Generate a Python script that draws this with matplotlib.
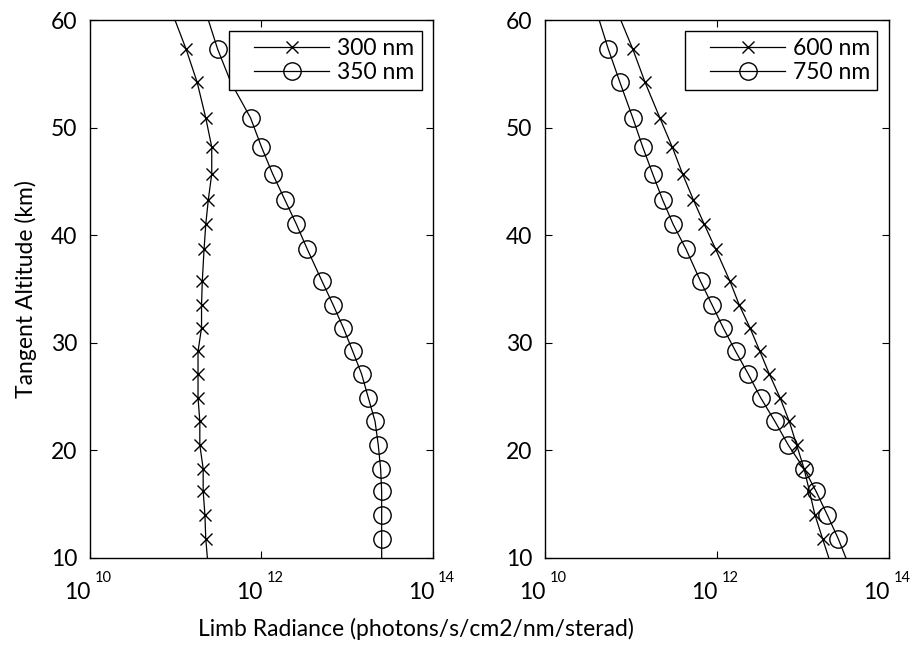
import numpy as np
import matplotlib
matplotlib.use('Agg')
import matplotlib.pyplot as plt
import matplotlib.transforms as mtransforms
from matplotlib.legend_handler import HandlerLine2D
from matplotlib.ticker import FixedLocator, NullLocator

plt.rcParams['font.family'] = ['Lato', 'DejaVu Sans']

# tangent altitudes (km); first and last entries are the ends of the model curve
altitude = [10.0, 11.8, 14.0, 16.2, 18.3, 20.5, 22.7, 24.9, 27.1, 29.2, 31.4,
            33.5, 35.7, 38.7, 41.0, 43.3, 45.7, 48.2, 50.9, 54.2, 57.3, 60.0]

# limb radiance (photons/s/cm2/nm/sterad)
rad_300 = [2.34e11, 2.24e11, 2.19e11, 2.09e11, 2.09e11, 1.91e11, 1.91e11, 1.82e11,
           1.82e11, 1.82e11, 2.00e11, 2.00e11, 2.04e11, 2.14e11, 2.24e11, 2.40e11,
           2.63e11, 2.63e11, 2.24e11, 1.78e11, 1.32e11, 9.8e10]
rad_350 = [2.52e13, 2.52e13, 2.52e13, 2.52e13, 2.45e13, 2.30e13, 2.11e13, 1.76e13,
           1.47e13, 1.16e13, 9.0e12, 6.87e12, 5.1e12, 3.42e12, 2.56e12, 1.87e12,
           1.35e12, 1.0e12, 7.46e11, 4.4e11, 3.08e11, 2.4e11]
rad_600 = [2.0e13, 1.69e13, 1.38e13, 1.19e13, 1.03e13, 8.45e12, 6.93e12, 5.41e12,
           4.06e12, 3.16e12, 2.42e12, 1.82e12, 1.42e12, 9.66e11, 7.13e11, 5.31e11,
           3.98e11, 3.02e11, 2.17e11, 1.46e11, 1.05e11, 7.6e10]
rad_750 = [3.16e13, 2.57e13, 1.92e13, 1.42e13, 1.03e13, 6.75e12, 4.72e12, 3.22e12,
           2.31e12, 1.65e12, 1.18e12, 8.81e11, 6.46e11, 4.37e11, 3.10e11, 2.33e11,
           1.79e11, 1.37e11, 1.05e11, 7.45e10, 5.45e10, 4.27e10]

x_decades = [10, 12, 14]
y_ticks = [10, 20, 30, 40, 50, 60]

# marker positions (curve end points carry no marker)
all_marks = list(range(1, len(altitude) - 1))
marks_350 = [i for i in all_marks if i != 19]  # 54.2 km point sits under the legend

panels = [(('300 nm', rad_300, all_marks), ('350 nm', rad_350, marks_350)),
          (('600 nm', rad_600, all_marks), ('750 nm', rad_750, all_marks))]

FS = 16.5
LEG_PAD = 0.8  # extra room left of the legend handles

fig = plt.figure(figsize=(9.17, 6.48), dpi=100)
axes = [fig.add_axes([0.0981, 0.1389, 0.3741, 0.8302]),
        fig.add_axes([0.5943, 0.1389, 0.3751, 0.8302])]

for ax, series in zip(axes, panels):
    (lab1, r1, m1), (lab2, r2, m2) = series
    l1, = ax.plot(r1, altitude, 'k-', marker='x', ms=8, mew=1.0, lw=0.9,
                  markevery=m1, label=lab1)
    l2, = ax.plot(r2, altitude, 'k-', marker='o', ms=12.5, mew=1.0, mfc='none',
                  lw=0.9, markevery=m2, label=lab2)
    ax.set_xscale('log')
    ax.set_xlim(1e10, 1e14)
    ax.set_ylim(10, 60)
    ax.xaxis.set_major_locator(FixedLocator([10.0 ** d for d in x_decades]))
    ax.xaxis.set_minor_locator(NullLocator())
    ax.set_xticklabels([])
    ax.set_yticks(y_ticks)
    ax.tick_params(direction='in', top=True, right=True, length=5, width=0.8,
                   labelsize=FS, pad=9)
    for sp in ax.spines.values():
        sp.set_linewidth(1.0)

    # decade labels: "10" with a raised exponent
    base = mtransforms.blended_transform_factory(ax.transData, ax.transAxes)
    for d in x_decades:
        tr_b = mtransforms.offset_copy(base, fig=fig, x=1, y=-41, units='dots')
        tr_e = mtransforms.offset_copy(base, fig=fig, x=5, y=-24, units='dots')
        ax.text(10.0 ** d, 0, '10', transform=tr_b, ha='right', va='baseline',
                fontsize=FS)
        ax.text(10.0 ** d, 0, str(d), transform=tr_e, ha='left', va='baseline',
                fontsize=10.5)

    hm = {l1: HandlerLine2D(xpad=LEG_PAD, marker_pad=0),
          l2: HandlerLine2D(xpad=LEG_PAD, marker_pad=0)}
    leg = ax.legend(loc='upper right', fontsize=FS, fancybox=False, framealpha=1,
                    edgecolor='black', borderaxespad=0.5, numpoints=1,
                    handlelength=3.3 + LEG_PAD, handletextpad=0.35,
                    borderpad=0.3, labelspacing=0.12, handler_map=hm)
    leg.get_frame().set_linewidth(1.0)

axes[0].set_ylabel('Tangent Altitude (km)', fontsize=FS, labelpad=10)
fig.text(0.4537, 0.0185, 'Limb Radiance (photons/s/cm2/nm/sterad)', fontsize=FS,
         ha='center', va='baseline')

fig.savefig('out.png', dpi=100)
